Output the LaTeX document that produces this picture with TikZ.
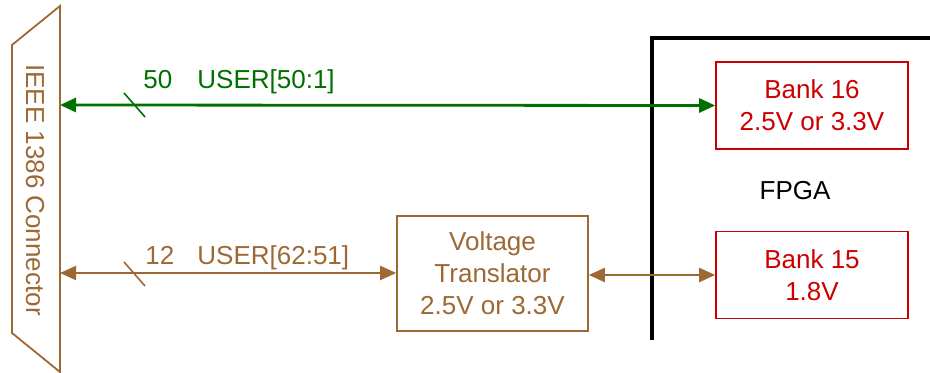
\documentclass[tikz,border=0pt]{standalone}
\usepackage{fontspec}
\setmainfont{Liberation Sans}
\usetikzlibrary{arrows.meta}
\definecolor{grn}{RGB}{0,112,0}
\definecolor{brn}{RGB}{158,104,52}
\definecolor{rd}{RGB}{204,0,0}
\begin{document}
\begin{tikzpicture}[x=0.5pt,y=-0.5pt,
  font=\fontsize{13}{16}\selectfont,
  bankbox/.style={draw=rd, text=rd, line width=0.8pt, minimum width=96pt, minimum height=43.5pt, inner sep=0pt, align=center},
  vtbox/.style={draw=brn, text=brn, line width=0.8pt, minimum width=95.5pt, minimum height=57.5pt, inner sep=0pt, align=center},
  lbl/.style={anchor=base west, inner sep=0pt},
  tipA/.style={{Triangle[length=8pt,width=7pt]}-{Triangle[length=8pt,width=7pt]}}]
\useasboundingbox (0,0) rectangle (930,373);
% connector
\draw[brn, line width=0.9pt] (60,6) -- (12,45) -- (12,333) -- (60,372) -- cycle;
\node[rotate=-90, text=brn, inner sep=0pt] (conn) at (35,190) {IEEE 1386 Connector};
\coordinate (c1) at (60,105);
\coordinate (c2) at (60,273);
% FPGA outline
\coordinate (f1) at (652,340);
\coordinate (f2) at (652,38);
\coordinate (f3) at (932,38);
\draw[line width=2pt] (f1) -- (f2) -- (f3);
\node (fpga) at (795,191) {FPGA};
% banks
\node[bankbox] (b16) at (812,105.5) {Bank 16\\2.5V or 3.3V};
\node[bankbox] (b15) at (812,275) {Bank 15\\1.8V};
% voltage translator
\node[vtbox] (vt) at (492.5,273.5) {Voltage\\Translator\\2.5V or 3.3V};
% green bus
\draw[grn, line width=1.4pt, tipA] (c1) -- (b16.west);
\draw[grn, line width=0.8pt] (124,93) -- (145,117);
\node[lbl, text=grn] (n50) at (143,89) {50};
\node[lbl, text=grn] (u50) at (197,89) {USER[50:1]};
% brown bus
\draw[brn, line width=1pt, tipA] (c2) -- (c2 -| vt.west);
\draw[brn, line width=0.8pt] (124,262) -- (145,286);
\node[lbl, text=brn] (n12) at (145,265) {12};
\node[lbl, text=brn] (u12) at (197,265) {USER[62:51]};
\draw[brn, line width=1pt, tipA] (vt.east |- b15.west) -- (b15.west);
\end{tikzpicture}
\end{document}
